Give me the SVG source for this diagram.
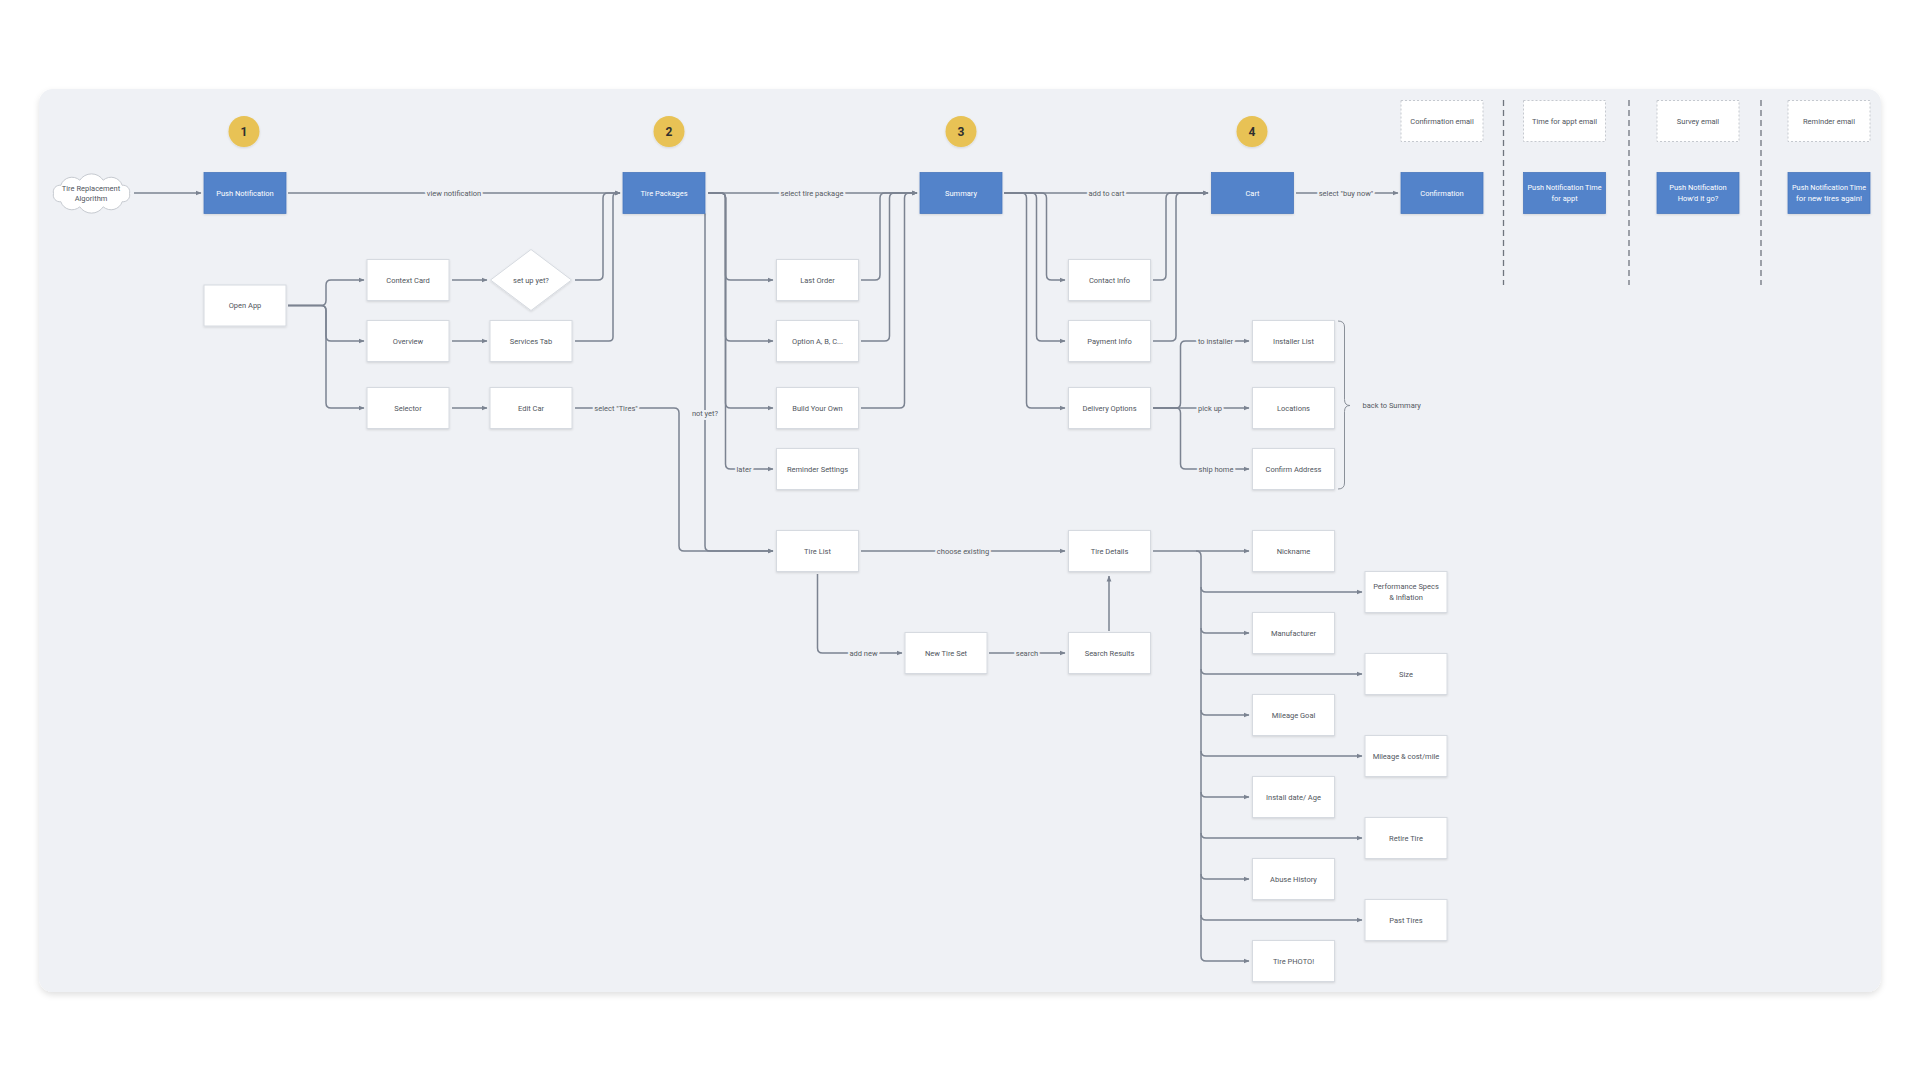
<svg xmlns="http://www.w3.org/2000/svg" width="1920" height="1080" viewBox="0 0 1920 1080">
<defs>
<style>
.box{fill:#ffffff;stroke:#d6dae0;stroke-width:1}
.blue{fill:#5383ca;stroke:#4a78bd;stroke-width:0.8}
.email{fill:#ffffff;stroke:#c5c9cf;stroke-width:1;stroke-dasharray:2 2}
.t{font-family:Roboto,"Liberation Sans",sans-serif;font-size:7.5px;fill:#50555d;text-anchor:middle;dominant-baseline:central}
.tw{font-family:Roboto,"Liberation Sans",sans-serif;font-size:7.5px;fill:#ffffff;text-anchor:middle;dominant-baseline:central}
.lbl{font-family:Roboto,"Liberation Sans",sans-serif;font-size:7.5px;fill:#555a62;text-anchor:middle;dominant-baseline:central;paint-order:stroke;stroke:#eff1f5;stroke-width:4px;stroke-linejoin:round}
.lbl2{font-family:Roboto,"Liberation Sans",sans-serif;font-size:7.5px;fill:#555a62;text-anchor:start;dominant-baseline:central}
.c{fill:none;stroke:#7b8391;stroke-width:1.5;stroke-linejoin:round}
.ca{fill:none;stroke:#7b8391;stroke-width:1.5;stroke-linejoin:round;marker-end:url(#ah)}
.brace{fill:none;stroke:#8a9099;stroke-width:1}
.dash{fill:none;stroke:#6f757e;stroke-width:1.3;stroke-dasharray:6 4}
.num{fill:#e8c254}
.numt{font-family:Roboto,"Liberation Sans",sans-serif;font-size:12px;font-weight:bold;fill:#2f2f2f;text-anchor:middle;dominant-baseline:central}
</style>
<marker id="ah" viewBox="0 0 6 6" refX="5.5" refY="3" markerWidth="6" markerHeight="6" markerUnits="userSpaceOnUse" orient="auto"><path d="M0,0.6 L6,3 L0,5.4 z" fill="#7b8391"/></marker>
<filter id="sh" x="-10%" y="-10%" width="120%" height="130%"><feDropShadow dx="0" dy="1" stdDeviation="0.8" flood-color="#000" flood-opacity="0.12"/></filter>
<filter id="psh" x="-5%" y="-5%" width="110%" height="115%"><feDropShadow dx="0" dy="3" stdDeviation="3" flood-color="#000" flood-opacity="0.12"/></filter>
</defs>
<rect width="1920" height="1080" fill="#ffffff"/>
<rect x="39" y="89" width="1842" height="903" rx="14" fill="#eff1f5" filter="url(#psh)"/>

<!-- step markers -->
<g id="step1"><circle class="num" cx="244" cy="131.5" r="15.5" filter="url(#sh)"/><text class="numt" x="244" y="131.5">1</text></g>
<g id="step2"><circle class="num" cx="669" cy="131.5" r="15.5" filter="url(#sh)"/><text class="numt" x="669" y="131.5">2</text></g>
<g id="step3"><circle class="num" cx="961" cy="131.5" r="15.5" filter="url(#sh)"/><text class="numt" x="961" y="131.5">3</text></g>
<g id="step4"><circle class="num" cx="1252" cy="131.5" r="15.5" filter="url(#sh)"/><text class="numt" x="1252" y="131.5">4</text></g>

<!-- separators -->
<g id="separators">
<path class="dash" d="M1503.5,100 V285"/>
<path class="dash" d="M1629,100 V285"/>
<path class="dash" d="M1761,100 V285"/>
</g>

<!-- connectors -->
<g id="connectors">
<path class="ca" d="M134,193 H201"/>
<path class="ca" d="M288,193 H620"/>
<path class="ca" d="M575,280 H598 Q603,280 603,275 V198 Q603,193 608,193 H620"/>
<path class="ca" d="M575,341 H609 Q613,341 613,337 V197 Q613,193 617,193 H620"/>
<path class="ca" d="M288,305.5 H321 Q326,305.5 326,300.5 V285 Q326,280 331,280 H364"/>
<path class="ca" d="M288,305.5 H321 Q326,305.5 326,310.5 V336 Q326,341 331,341 H364"/>
<path class="ca" d="M288,305.5 H321 Q326,305.5 326,310.5 V403 Q326,408 331,408 H364"/>
<path class="ca" d="M452,280 H487"/>
<path class="ca" d="M452,341 H487"/>
<path class="ca" d="M452,408 H487"/>
<path class="ca" d="M575,408 H674 Q679,408 679,413 V546 Q679,551 684,551 H773"/>
<path class="ca" d="M705,213.5 V546 Q705,551 710,551 H773"/>
<path class="ca" d="M708,193 H917"/>
<path class="ca" d="M708,193 H720.5 Q725.5,193 725.5,198 V275 Q725.5,280 730.5,280 H773"/>
<path class="ca" d="M708,193 H720.5 Q725.5,193 725.5,198 V336 Q725.5,341 730.5,341 H773"/>
<path class="ca" d="M708,193 H720.5 Q725.5,193 725.5,198 V403 Q725.5,408 730.5,408 H773"/>
<path class="ca" d="M708,193 H720.5 Q725.5,193 725.5,198 V464 Q725.5,469 730.5,469 H773"/>
<path class="ca" d="M861,280 H875 Q880,280 880,275 V198 Q880,193 885,193 H917"/>
<path class="ca" d="M861,341 H884.5 Q889.5,341 889.5,336 V198 Q889.5,193 894.5,193 H917"/>
<path class="ca" d="M861,408 H899.5 Q904.5,408 904.5,403 V198 Q904.5,193 909.5,193 H917"/>
<path class="ca" d="M1004,193 H1208"/>
<path class="ca" d="M1004,193 H1041.5 Q1046.5,193 1046.5,198 V275 Q1046.5,280 1051.5,280 H1065"/>
<path class="ca" d="M1004,193 H1031.5 Q1036.5,193 1036.5,198 V336 Q1036.5,341 1041.5,341 H1065"/>
<path class="ca" d="M1004,193 H1021.5 Q1026.5,193 1026.5,198 V403 Q1026.5,408 1031.5,408 H1065"/>
<path class="ca" d="M1153,280 H1161 Q1166,280 1166,275 V198 Q1166,193 1171,193 H1208"/>
<path class="ca" d="M1153,341 H1171 Q1176,341 1176,336 V198 Q1176,193 1181,193 H1208"/>
<path class="ca" d="M1296,193 H1398"/>
<path class="ca" d="M1153,408 H1176 Q1180.5,408 1180.5,403 V346 Q1180.5,341 1185.5,341 H1249"/>
<path class="ca" d="M1153,408 H1249"/>
<path class="ca" d="M1153,408 H1176 Q1180.5,408 1180.5,413 V464 Q1180.5,469 1185.5,469 H1249"/>
<path class="brace" d="M1338,321 Q1344.5,321 1344.5,327 V399.5 Q1344.5,405.5 1350,405.5 Q1344.5,405.5 1344.5,411.5 V483 Q1344.5,489 1338,489"/>
<path class="ca" d="M861,551 H1065"/>
<path class="ca" d="M817.5,574 V648 Q817.5,653 822.5,653 H902"/>
<path class="ca" d="M989,653 H1065"/>
<path class="ca" d="M1109,631 V576"/>
<path class="ca" d="M1153,551 H1249"/>
<path class="ca" d="M1196,551 Q1201,551 1201,556 V956 Q1201,961 1206,961 H1249"/>
<path class="ca" d="M1201,587 Q1201,592 1206,592 H1362"/>
<path class="ca" d="M1201,628 Q1201,633 1206,633 H1249"/>
<path class="ca" d="M1201,669 Q1201,674 1206,674 H1362"/>
<path class="ca" d="M1201,710 Q1201,715 1206,715 H1249"/>
<path class="ca" d="M1201,751 Q1201,756 1206,756 H1362"/>
<path class="ca" d="M1201,792 Q1201,797 1206,797 H1249"/>
<path class="ca" d="M1201,833 Q1201,838 1206,838 H1362"/>
<path class="ca" d="M1201,874 Q1201,879 1206,879 H1249"/>
<path class="ca" d="M1201,915 Q1201,920 1206,920 H1362"/>
<text class="lbl" x="454" y="193">view notification</text>
<text class="lbl" x="616" y="408">select "Tires"</text>
<text class="lbl" x="705" y="413.5">not yet?</text>
<text class="lbl" x="812" y="193">select tire package</text>
<text class="lbl" x="744" y="469">later</text>
<text class="lbl" x="1106.5" y="193">add to cart</text>
<text class="lbl" x="1346" y="193">select "buy now"</text>
<text class="lbl" x="1215.5" y="341">to installer</text>
<text class="lbl" x="1210" y="408">pick up</text>
<text class="lbl" x="1216" y="469">ship home</text>
<text class="lbl2" x="1362.5" y="405.5">back to Summary</text>
<text class="lbl" x="963" y="551">choose existing</text>
<text class="lbl" x="863.5" y="653">add new</text>
<text class="lbl" x="1027" y="653">search</text>
</g>

<!-- nodes -->
<g id="n-cloud"><path d="M53.5,193.5 A6.6,6.6 0 0 1 60.8,185.3 A11.8,11.8 0 0 1 79.8,180.2 A14,14 0 0 1 103.2,180.2 A11.8,11.8 0 0 1 122.2,185.3 A6.6,6.6 0 0 1 129.5,193.5 A6.6,6.6 0 0 1 122.2,201.7 A11.8,11.8 0 0 1 103.2,206.8 A14,14 0 0 1 79.8,206.8 A11.8,11.8 0 0 1 60.8,201.7 A6.6,6.6 0 0 1 53.5,193.5 Z" fill="#ffffff" stroke="#c6cad0" stroke-width="1"/><text class="t" x="91" y="188">Tire Replacement</text><text class="t" x="91" y="198.5">Algorithm</text></g>

<g id="n-push"><rect class="blue" x="204" y="172.5" width="82" height="41" filter="url(#sh)"/><text class="tw" x="245" y="193">Push Notification</text></g>
<g id="n-tirepackages"><rect class="blue" x="623" y="172.5" width="82" height="41" filter="url(#sh)"/><text class="tw" x="664" y="193">Tire Packages</text></g>
<g id="n-summary"><rect class="blue" x="920" y="172.5" width="82" height="41" filter="url(#sh)"/><text class="tw" x="961" y="193">Summary</text></g>
<g id="n-cart"><rect class="blue" x="1211.5" y="172.5" width="82" height="41" filter="url(#sh)"/><text class="tw" x="1252.5" y="193">Cart</text></g>
<g id="n-confirmation"><rect class="blue" x="1401" y="172.5" width="82" height="41" filter="url(#sh)"/><text class="tw" x="1442" y="193">Confirmation</text></g>
<g id="n-pn-appt"><rect class="blue" x="1523.5" y="172.5" width="82" height="41" filter="url(#sh)"/><text class="tw" x="1564.5" y="187.7" textLength="74" lengthAdjust="spacingAndGlyphs">Push Notification Time</text><text class="tw" x="1564.5" y="198.3">for appt</text></g>
<g id="n-pn-howd"><rect class="blue" x="1657" y="172.5" width="82" height="41" filter="url(#sh)"/><text class="tw" x="1698" y="187.7">Push Notification</text><text class="tw" x="1698" y="198.3">How'd it go?</text></g>
<g id="n-pn-again"><rect class="blue" x="1788" y="172.5" width="82" height="41" filter="url(#sh)"/><text class="tw" x="1829" y="187.7" textLength="74" lengthAdjust="spacingAndGlyphs">Push Notification Time</text><text class="tw" x="1829" y="198.3" textLength="66" lengthAdjust="spacingAndGlyphs">for new tires again!</text></g>

<g id="n-email-confirm"><rect class="email" x="1401" y="100.5" width="82" height="41"/><text class="t" x="1442" y="121">Confirmation email</text></g>
<g id="n-email-appt"><rect class="email" x="1523.5" y="100.5" width="82" height="41"/><text class="t" x="1564.5" y="121">Time for appt email</text></g>
<g id="n-email-survey"><rect class="email" x="1657" y="100.5" width="82" height="41"/><text class="t" x="1698" y="121">Survey email</text></g>
<g id="n-email-reminder"><rect class="email" x="1788" y="100.5" width="82" height="41"/><text class="t" x="1829" y="121">Reminder email</text></g>

<g id="n-openapp"><rect class="box" x="204" y="285" width="82" height="41" filter="url(#sh)"/><text class="t" x="245" y="305.5">Open App</text></g>
<g id="n-contextcard"><rect class="box" x="367" y="259.5" width="82" height="41" filter="url(#sh)"/><text class="t" x="408" y="280">Context Card</text></g>
<g id="n-overview"><rect class="box" x="367" y="320.5" width="82" height="41" filter="url(#sh)"/><text class="t" x="408" y="341">Overview</text></g>
<g id="n-selector"><rect class="box" x="367" y="387.5" width="82" height="41" filter="url(#sh)"/><text class="t" x="408" y="408">Selector</text></g>
<g id="n-setup"><path d="M531,249.5 L571.5,280 L531,310.5 L490.5,280 Z" fill="#ffffff" stroke="#d6dae0" stroke-width="1" filter="url(#sh)"/><text class="t" x="531" y="280">set up yet?</text></g>
<g id="n-servicestab"><rect class="box" x="490" y="320.5" width="82" height="41" filter="url(#sh)"/><text class="t" x="531" y="341">Services Tab</text></g>
<g id="n-editcar"><rect class="box" x="490" y="387.5" width="82" height="41" filter="url(#sh)"/><text class="t" x="531" y="408">Edit Car</text></g>

<g id="n-lastorder"><rect class="box" x="776.5" y="259.5" width="82" height="41" filter="url(#sh)"/><text class="t" x="817.5" y="280">Last Order</text></g>
<g id="n-optionabc"><rect class="box" x="776.5" y="320.5" width="82" height="41" filter="url(#sh)"/><text class="t" x="817.5" y="341">Option A, B, C...</text></g>
<g id="n-buildyourown"><rect class="box" x="776.5" y="387.5" width="82" height="41" filter="url(#sh)"/><text class="t" x="817.5" y="408">Build Your Own</text></g>
<g id="n-reminder"><rect class="box" x="776.5" y="448.5" width="82" height="41" filter="url(#sh)"/><text class="t" x="817.5" y="469">Reminder Settings</text></g>
<g id="n-tirelist"><rect class="box" x="776.5" y="530.5" width="82" height="41" filter="url(#sh)"/><text class="t" x="817.5" y="551">Tire List</text></g>

<g id="n-contactinfo"><rect class="box" x="1068.5" y="259.5" width="82" height="41" filter="url(#sh)"/><text class="t" x="1109.5" y="280">Contact Info</text></g>
<g id="n-paymentinfo"><rect class="box" x="1068.5" y="320.5" width="82" height="41" filter="url(#sh)"/><text class="t" x="1109.5" y="341">Payment Info</text></g>
<g id="n-delivery"><rect class="box" x="1068.5" y="387.5" width="82" height="41" filter="url(#sh)"/><text class="t" x="1109.5" y="408">Delivery Options</text></g>
<g id="n-tiredetails"><rect class="box" x="1068.5" y="530.5" width="82" height="41" filter="url(#sh)"/><text class="t" x="1109.5" y="551">Tire Details</text></g>
<g id="n-searchresults"><rect class="box" x="1068.5" y="632.5" width="82" height="41" filter="url(#sh)"/><text class="t" x="1109.5" y="653">Search Results</text></g>
<g id="n-newtireset"><rect class="box" x="905" y="632.5" width="82" height="41" filter="url(#sh)"/><text class="t" x="946" y="653">New Tire Set</text></g>

<g id="n-installerlist"><rect class="box" x="1252.5" y="320.5" width="82" height="41" filter="url(#sh)"/><text class="t" x="1293.5" y="341">Installer List</text></g>
<g id="n-locations"><rect class="box" x="1252.5" y="387.5" width="82" height="41" filter="url(#sh)"/><text class="t" x="1293.5" y="408">Locations</text></g>
<g id="n-confirmaddress"><rect class="box" x="1252.5" y="448.5" width="82" height="41" filter="url(#sh)"/><text class="t" x="1293.5" y="469">Confirm Address</text></g>

<g id="n-nickname"><rect class="box" x="1252.5" y="530.5" width="82" height="41" filter="url(#sh)"/><text class="t" x="1293.5" y="551">Nickname</text></g>
<g id="n-perfspecs"><rect class="box" x="1365" y="571.5" width="82" height="41" filter="url(#sh)"/><text class="t" x="1406" y="586.7">Performance Specs</text><text class="t" x="1406" y="597.3">&amp; Inflation</text></g>
<g id="n-manufacturer"><rect class="box" x="1252.5" y="612.5" width="82" height="41" filter="url(#sh)"/><text class="t" x="1293.5" y="633">Manufacturer</text></g>
<g id="n-size"><rect class="box" x="1365" y="653.5" width="82" height="41" filter="url(#sh)"/><text class="t" x="1406" y="674">Size</text></g>
<g id="n-mileagegoal"><rect class="box" x="1252.5" y="694.5" width="82" height="41" filter="url(#sh)"/><text class="t" x="1293.5" y="715">Mileage Goal</text></g>
<g id="n-mileagecost"><rect class="box" x="1365" y="735.5" width="82" height="41" filter="url(#sh)"/><text class="t" x="1406" y="756">Mileage &amp; cost/mile</text></g>
<g id="n-installdate"><rect class="box" x="1252.5" y="776.5" width="82" height="41" filter="url(#sh)"/><text class="t" x="1293.5" y="797">Install date/ Age</text></g>
<g id="n-retiretire"><rect class="box" x="1365" y="817.5" width="82" height="41" filter="url(#sh)"/><text class="t" x="1406" y="838">Retire Tire</text></g>
<g id="n-abusehistory"><rect class="box" x="1252.5" y="858.5" width="82" height="41" filter="url(#sh)"/><text class="t" x="1293.5" y="879">Abuse History</text></g>
<g id="n-pasttires"><rect class="box" x="1365" y="899.5" width="82" height="41" filter="url(#sh)"/><text class="t" x="1406" y="920">Past Tires</text></g>
<g id="n-tirephoto"><rect class="box" x="1252.5" y="940.5" width="82" height="41" filter="url(#sh)"/><text class="t" x="1293.5" y="961">Tire PHOTO!</text></g>
</svg>
